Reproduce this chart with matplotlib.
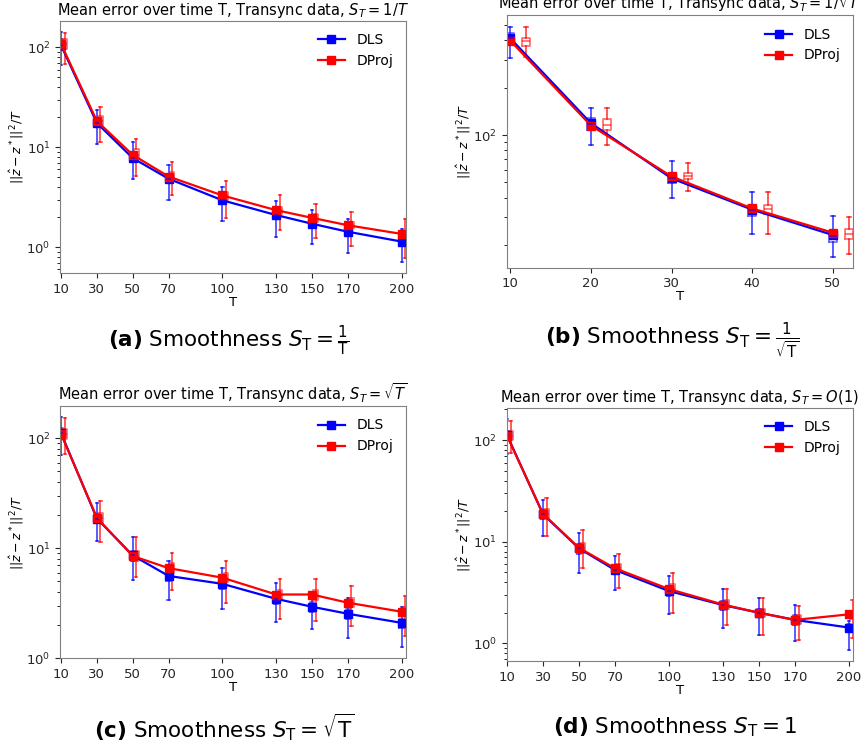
import numpy as np
import matplotlib
matplotlib.use("Agg")
import matplotlib.pyplot as plt

T_long = [10, 30, 50, 70, 100, 130, 150, 170, 200]
T_short = [10, 20, 30, 40, 50]

# (a) S_T = 1/T
a_dls_mean = [105, 17.5, 7.8, 4.85, 2.95, 2.1, 1.72, 1.43, 1.14]
a_dls_lo = [67, 10.8, 4.8, 3.0, 1.83, 1.26, 1.07, 0.87, 0.71]
a_dls_hi = [141, 23.6, 11.2, 6.7, 4.0, 2.9, 2.35, 1.93, 1.52]
a_dls_q1 = [95, 16.3, 7.1, 4.5, 2.72, 1.95, 1.6, 1.33, 1.05]
a_dls_q3 = [120, 19.5, 8.9, 5.4, 3.2, 2.3, 1.88, 1.55, 1.22]
a_dproj_mean = [108, 18.3, 8.4, 5.1, 3.3, 2.35, 1.97, 1.66, 1.36]
a_dproj_lo = [68, 11.2, 5.2, 3.35, 1.95, 1.5, 1.25, 1.04, 0.78]
a_dproj_hi = [138, 25.5, 12.2, 7.1, 4.6, 3.3, 2.7, 2.25, 1.92]
a_dproj_q1 = [97, 16.8, 7.6, 4.7, 3.0, 2.15, 1.8, 1.55, 1.27]
a_dproj_q3 = [122, 20.5, 9.6, 5.7, 3.6, 2.55, 2.15, 1.78, 1.45]

# (b) S_T = 1/sqrt(T)
b_dls_mean = [413, 119, 53, 33.5, 23.1]
b_dls_med = [417, 118, 53, 33.3, 22.7]
b_dls_lo = [308, 87, 39.5, 23.3, 16.8]
b_dls_hi = [489, 149, 68, 43.6, 30.6]
b_dls_q1 = [387, 108, 49.7, 30.5, 20.9]
b_dls_q3 = [444, 129, 56.5, 35.8, 24.6]
b_dproj_mean = [399, 115, 54.5, 34.1, 23.9]
b_dproj_med = [395, 116, 54.6, 33.7, 23.5]
b_dproj_lo = [315, 87, 44, 23.6, 17.4]
b_dproj_hi = [485, 148, 66, 43.6, 30.2]
b_dproj_q1 = [370, 107, 52.2, 31.3, 21.7]
b_dproj_q3 = [417, 126, 57.6, 36, 25.1]

# (c) S_T = sqrt(T)
c_dls_mean = [111, 18.6, 8.6, 5.6, 4.75, 3.47, 2.94, 2.54, 2.10]
c_dls_lo = [71, 11.6, 5.1, 3.4, 2.8, 2.15, 1.83, 1.54, 1.27]
c_dls_hi = [155, 25.8, 12.6, 7.7, 6.6, 4.85, 3.95, 3.5, 2.9]
c_dls_q1 = [100, 16.8, 7.7, 5.0, 4.3, 3.1, 2.65, 2.3, 1.9]
c_dls_q3 = [123, 20.5, 9.5, 6.2, 5.2, 3.8, 3.25, 2.8, 2.3]
c_dproj_mean = [109, 18.9, 8.5, 6.6, 5.4, 3.8, 3.8, 3.2, 2.65]
c_dproj_lo = [72, 11.4, 5.5, 4.2, 3.2, 2.3, 2.2, 1.96, 1.59]
c_dproj_hi = [152, 26.7, 12.7, 9.1, 7.6, 5.3, 5.3, 4.5, 3.7]
c_dproj_q1 = [98, 17.0, 7.7, 6.0, 4.9, 3.4, 3.4, 2.9, 2.4]
c_dproj_q3 = [121, 21.0, 9.5, 7.3, 6.0, 4.2, 4.2, 3.5, 2.9]

# (d) S_T = O(1)
d_dls_mean = [112, 18.6, 8.6, 5.27, 3.27, 2.38, 2.0, 1.70, 1.43]
d_dls_lo = [73, 11.5, 4.95, 3.35, 1.94, 1.43, 1.21, 1.05, 0.86]
d_dls_hi = [160, 25.7, 12.1, 7.2, 4.6, 3.4, 2.77, 2.38, 1.66]
d_dls_q1 = [100, 16.8, 7.5, 4.8, 2.95, 2.15, 1.8, 1.53, 1.3]
d_dls_q3 = [124, 20.5, 9.5, 5.8, 3.6, 2.6, 2.2, 1.88, 1.55]
d_dproj_mean = [110, 18.8, 8.7, 5.47, 3.42, 2.41, 2.0, 1.70, 1.93]
d_dproj_lo = [74, 11.5, 5.5, 3.5, 2.0, 1.5, 1.22, 1.07, 1.12]
d_dproj_hi = [154, 27, 13.0, 7.5, 4.9, 3.4, 2.77, 2.35, 2.67]
d_dproj_q1 = [99, 17.0, 7.8, 5.0, 3.1, 2.2, 1.82, 1.55, 1.75]
d_dproj_q3 = [122, 20.8, 9.7, 6.0, 3.8, 2.65, 2.2, 1.88, 2.1]

titles = [r"Mean error over time T, Transync data, $S_T = 1/T$",
          r"Mean error over time T, Transync data, $S_T = 1/\sqrt{T}$",
          r"Mean error over time T, Transync data, $S_T = \sqrt{T}$",
          r"Mean error over time T, Transync data, $S_T = O(1)$"]
captions = [r"$\mathbf{(a)}$ Smoothness $S_\mathrm{T} = \frac{1}{\mathrm{T}}$",
            r"$\mathbf{(b)}$ Smoothness $S_\mathrm{T} = \frac{1}{\sqrt{\mathrm{T}}}$",
            r"$\mathbf{(c)}$ Smoothness $S_\mathrm{T} = \sqrt{\mathrm{T}}$",
            r"$\mathbf{(d)}$ Smoothness $S_\mathrm{T} = 1$"]


def stats(mean, med, lo, hi, q1, q3):
    return [dict(med=md, q1=a, q3=b, whislo=l, whishi=h, mean=m, fliers=[])
            for m, md, l, h, a, b in zip(mean, med, lo, hi, q1, q3)]


def panel(ax, T, dls, dproj, width, shift, title, ylim, xlim):
    for st, col, off in [(dls, "blue", 0), (dproj, "red", shift)]:
        pos = [t + off for t in T]
        ax.bxp(stats(*st), positions=pos, widths=width, manage_ticks=False,
               boxprops=dict(color=col, alpha=0.6, lw=1.2),
               whiskerprops=dict(color=col, alpha=0.75, lw=1.2),
               capprops=dict(color=col, alpha=0.75, lw=1.2),
               medianprops=dict(color=col, alpha=0.6, lw=1.2))
    ax.plot(T, dls[0], "s-", color="blue", lw=1.6, ms=6, label="DLS")
    ax.plot(T, dproj[0], "s-", color="red", lw=1.6, ms=6, label="DProj")
    ax.set_yscale("log")
    ax.set_ylim(*ylim)
    ax.set_xlim(*xlim)
    ax.set_xticks(T)
    ax.set_xticklabels([str(t) for t in T])
    ax.tick_params(labelsize=9.5, colors="0.15")
    ax.set_xlabel("T", fontsize=9.5, labelpad=0)
    ax.set_ylabel(r"$||\hat{z} - z^*||^2/T$", fontsize=9, labelpad=0)
    ax.set_title(title, fontsize=10.5, pad=4)
    for s in ax.spines.values():
        s.set_color("0.5")
    ax.legend(loc="upper right", frameon=False, fontsize=10)


fig = plt.figure(figsize=(8.68, 7.51), dpi=100)
axa = fig.add_axes([0.0695, 0.6365, 0.398, 0.336])
axb = fig.add_axes([0.5837, 0.6435, 0.399, 0.3365])
axc = fig.add_axes([0.0695, 0.1234, 0.398, 0.336])
axd = fig.add_axes([0.5837, 0.1198, 0.399, 0.3373])

panel(axa, T_long,
      (a_dls_mean, a_dls_mean, a_dls_lo, a_dls_hi, a_dls_q1, a_dls_q3),
      (a_dproj_mean, a_dproj_mean, a_dproj_lo, a_dproj_hi, a_dproj_q1, a_dproj_q3),
      2.5, 2, titles[0], (0.553, 185), (9.6, 202.3))
panel(axb, T_short,
      (b_dls_mean, b_dls_med, b_dls_lo, b_dls_hi, b_dls_q1, b_dls_q3),
      (b_dproj_mean, b_dproj_med, b_dproj_lo, b_dproj_hi, b_dproj_q1, b_dproj_q3),
      1.0, 2, titles[1], (14.3, 581), (9.55, 52.5))
panel(axc, T_long,
      (c_dls_mean, c_dls_mean, c_dls_lo, c_dls_hi, c_dls_q1, c_dls_q3),
      (c_dproj_mean, c_dproj_mean, c_dproj_lo, c_dproj_hi, c_dproj_q1, c_dproj_q3),
      2.5, 2, titles[2], (1.0, 196), (9.6, 202.3))
panel(axd, T_long,
      (d_dls_mean, d_dls_mean, d_dls_lo, d_dls_hi, d_dls_q1, d_dls_q3),
      (d_dproj_mean, d_dproj_mean, d_dproj_lo, d_dproj_hi, d_dproj_q1, d_dproj_q3),
      2.5, 2, titles[3], (0.67, 208), (9.8, 202.2))

fig.text(0.264, 0.547, captions[0], fontsize=15.5, ha="center", va="center")
fig.text(0.774, 0.547, captions[1], fontsize=15.5, ha="center", va="center")
fig.text(0.259, 0.032, captions[2], fontsize=15.5, ha="center", va="center")
fig.text(0.778, 0.032, captions[3], fontsize=15.5, ha="center", va="center")

fig.savefig("out.png", dpi=100)
